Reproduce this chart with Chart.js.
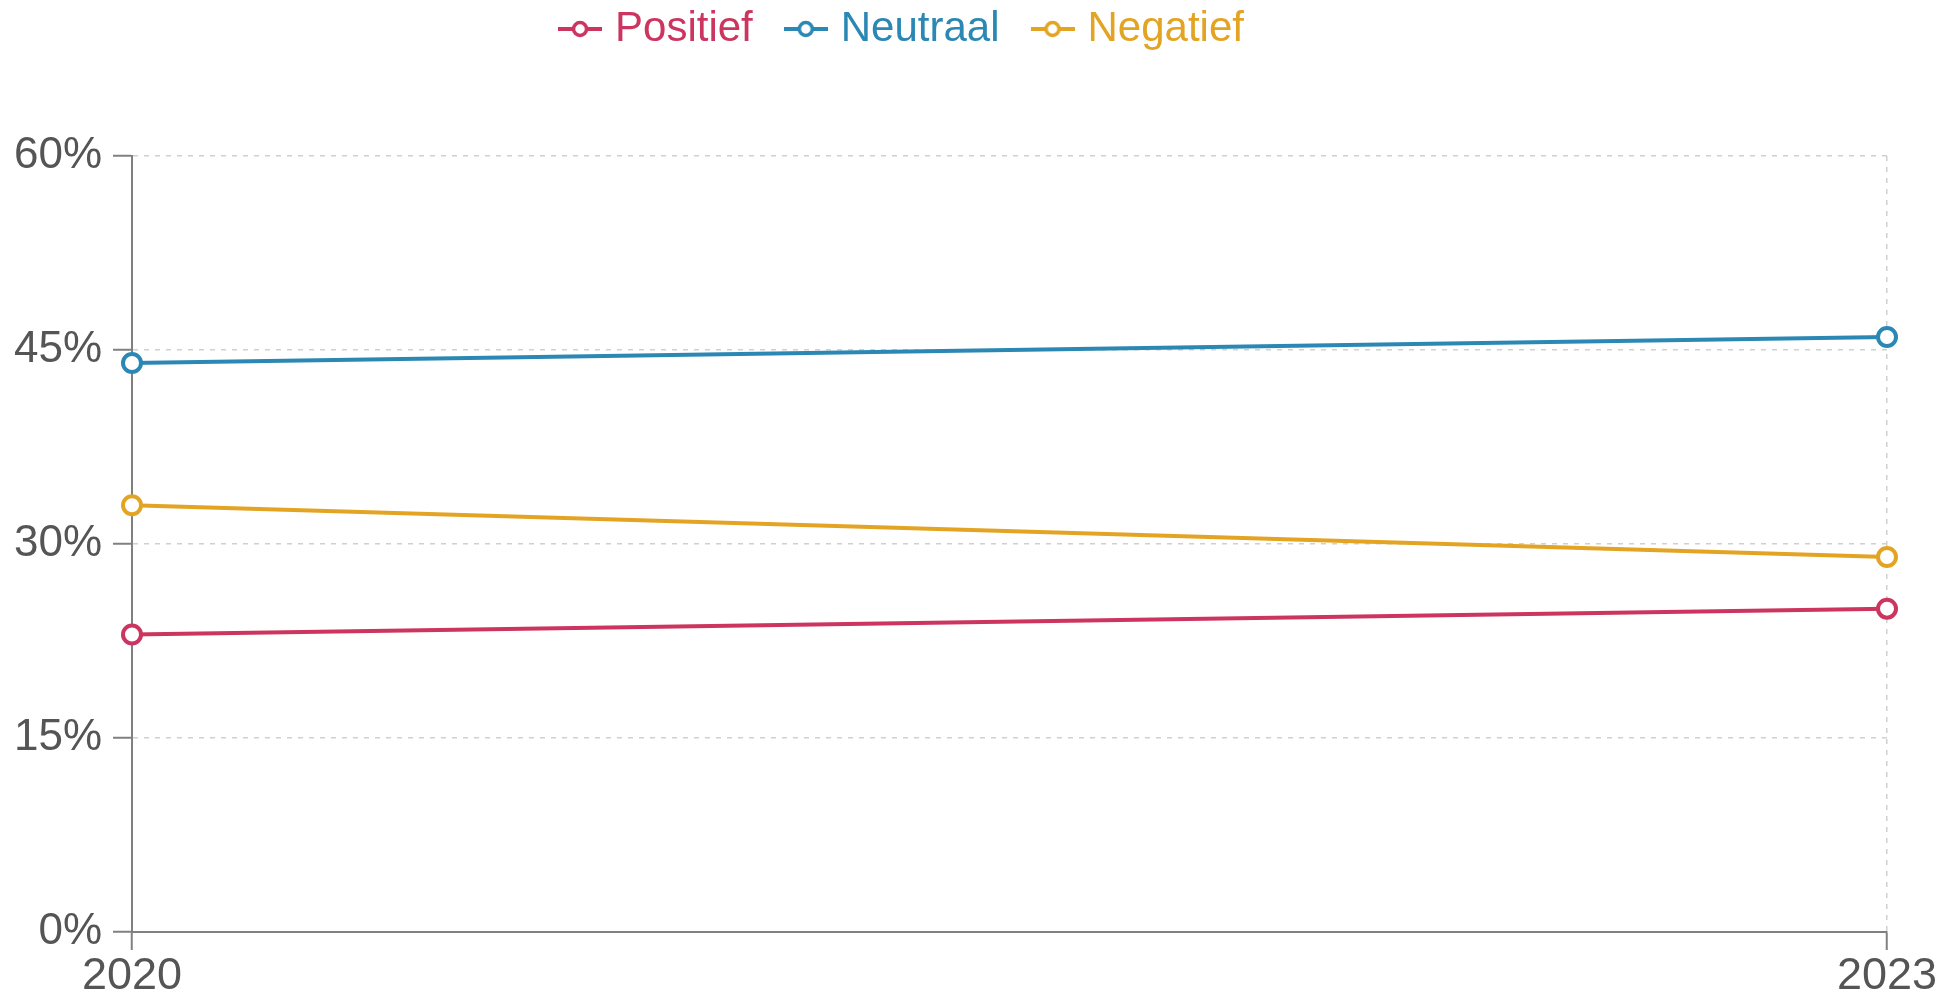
<!DOCTYPE html>
<html>
<head>
<meta charset="utf-8">
<script src="https://cdn.jsdelivr.net/npm/chart.js@4.4.1/dist/chart.umd.min.js"></script>
<style>
  html, body { margin: 0; padding: 0; background: #ffffff; }
  #wrap { width: 1959px; height: 997px; position: relative; }
</style>
</head>
<body>
<div id="wrap"><canvas id="lijn"></canvas></div>
<script>
// data
const jaren = ['2020', '2023'];
const positief = [23, 25];
const neutraal = [44, 46];
const negatief = [33, 29];
const yTicks = [0, 15, 30, 45, 60];

const kleuren = {
    positief: '#cc3560',
    neutraal: '#2b88b4',
    negatief: '#e3a423'
};

// legend marker: short line with hollow circle
function maakMarker(kleur) {
    const c = document.createElement('canvas');
    c.width = 44;
    c.height = 20;
    const g = c.getContext('2d');
    g.strokeStyle = kleur;
    g.lineWidth = 4;
    g.beginPath();
    g.moveTo(0, 10);
    g.lineTo(44, 10);
    g.stroke();
    g.fillStyle = '#ffffff';
    g.lineWidth = 3.5;
    g.beginPath();
    g.arc(22, 10, 6.5, 0, Math.PI * 2);
    g.fill();
    g.stroke();
    return c;
}

function reeks(label, data, kleur) {
    return {
        label: label,
        data: data,
        borderColor: kleur,
        backgroundColor: '#ffffff',
        borderWidth: 4,
        pointStyle: 'circle',
        pointRadius: 9,
        pointBorderWidth: 4,
        pointBackgroundColor: '#ffffff',
        pointBorderColor: kleur,
        tension: 0,
        clip: false
    };
}

// schuif de legende wat naar links/boven zoals in het origineel
const legendePlugin = {
    id: 'legendePlaats',
    beforeLayout(chart) {
        const lg = chart.legend;
        if (lg && !lg._gepatcht) {
            const orig = lg.fit;
            lg.fit = function () {
                orig.call(this);
                this.height = 156;
            };
            lg._gepatcht = true;
        }
    },
    afterLayout(chart) {
        const lg = chart.legend;
        lg.left -= 38.5;
        lg.right -= 38.5;
        lg.top -= 31;
    }
};

const ctx = document.getElementById('lijn').getContext('2d');
new Chart(ctx, {
    type: 'line',
    data: {
        labels: jaren,
        datasets: [
            reeks('Positief', positief, kleuren.positief),
            reeks('Neutraal', neutraal, kleuren.neutraal),
            reeks('Negatief', negatief, kleuren.negatief)
        ]
    },
    options: {
        responsive: true,
        maintainAspectRatio: false,
        animation: false,
        layout: { padding: { left: 0, right: 72, top: 0, bottom: 0 } },
        plugins: {
            legend: {
                position: 'top',
                align: 'center',
                labels: {
                    usePointStyle: true,
                    pointStyleWidth: 28,
                    padding: 39,
                    font: { family: 'Liberation Sans, Arial, sans-serif', size: 42 },
                    generateLabels(chart) {
                        return chart.data.datasets.map((ds, i) => ({
                            text: ds.label,
                            fontColor: ds.borderColor,
                            fillStyle: '#ffffff',
                            strokeStyle: ds.borderColor,
                            lineWidth: 0,
                            pointStyle: maakMarker(ds.borderColor),
                            hidden: !chart.isDatasetVisible(i),
                            datasetIndex: i
                        }));
                    }
                }
            },
            tooltip: { enabled: false }
        },
        scales: {
            x: {
                type: 'category',
                offset: false,
                grid: {
                    color: '#d0d0d0',
                    lineWidth: 1.5,
                    tickLength: 18,
                    tickColor: '#808080',
                    tickWidth: 2,
                    tickBorderDash: []
                },
                border: { color: '#808080', width: 2, dash: [5, 6] },
                ticks: {
                    padding: 0,
                    color: '#555555',
                    maxRotation: 0,
                    autoSkip: false,
                    font: { family: 'Liberation Sans, Arial, sans-serif', size: 45 }
                },
                afterFit(scale) { scale.height = 65; }
            },
            y: {
                min: 0,
                max: 60,
                afterBuildTicks(scale) {
                    scale.ticks = yTicks.map(v => ({ value: v }));
                },
                grid: {
                    color: '#d0d0d0',
                    lineWidth: 1.5,
                    tickLength: 19,
                    tickColor: '#808080',
                    tickWidth: 2,
                    tickBorderDash: []
                },
                border: { color: '#808080', width: 2, dash: [5, 6] },
                ticks: {
                    padding: 11,
                    color: '#555555',
                    font: { family: 'Liberation Sans, Arial, sans-serif', size: 44 },
                    callback: v => v + '%'
                },
                afterFit(scale) { scale.width = 132; }
            }
        }
    },
    plugins: [legendePlugin]
});
</script>
</body>
</html>
